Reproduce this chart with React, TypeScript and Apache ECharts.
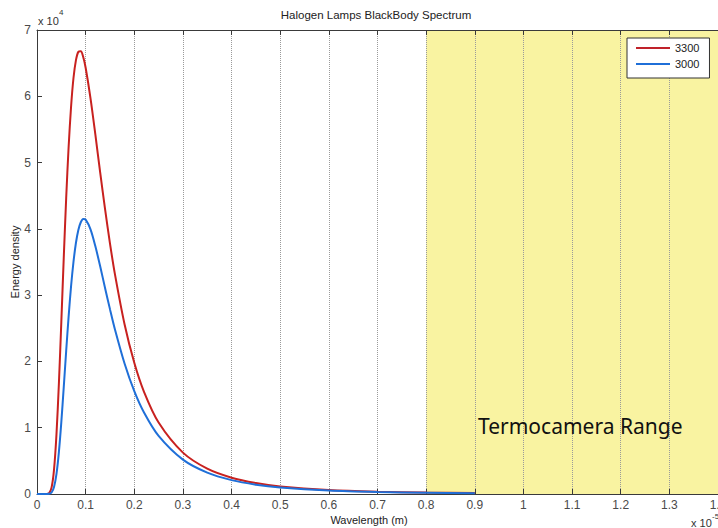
import React, { useEffect, useRef } from "react";
import * as echarts from "echarts";

// wavelength in units of 1e-5 m
const wavelength = [0, 0.02, 0.025, 0.03, 0.035, 0.04, 0.045, 0.05, 0.055, 0.06, 0.065, 0.07, 0.075, 0.08, 0.085, 0.09, 0.095, 0.1, 0.11, 0.12, 0.13, 0.14, 0.15, 0.16, 0.18, 0.2, 0.22, 0.25, 0.3, 0.35, 0.4, 0.45, 0.5, 0.6, 0.7, 0.8, 0.9];
const energy3300 = [0, 5, 136, 1001, 3680, 8960, 16680, 25960, 35630, 44650, 52340, 58390, 62760, 65410, 66700, 66780, 65920, 64300, 59700, 54210, 48440, 42940, 37820, 33240, 25600, 19790, 15410, 10780, 6240, 3820, 2460, 1650, 1140, 598, 342, 209, 135];
const energy3000 = [0, 1, 24, 232, 1060, 3010, 6330, 10850, 16120, 21590, 26760, 31320, 35010, 37870, 39840, 41000, 41500, 41390, 39930, 37370, 34310, 31050, 27890, 24890, 19690, 15520, 12290, 8760, 5180, 3220, 2090, 1410, 988, 522, 300, 185, 120];
const seriesNames = ["3300", "3000"];
const rangeX = [0.8, 1.4];
const yMax = 70000;
const xMax = 1.4;

export default function App() {
  const ref = useRef<HTMLDivElement>(null);
  useEffect(() => {
    const chart = echarts.init(ref.current!, null, { renderer: "svg" });
    const font = "'Liberation Sans', Arial, sans-serif";
    const axisColor = "#3a3a3a";
    const labelColor = "#4a4a4a";
    chart.setOption({
      animation: false,
      backgroundColor: "#ffffff",
      grid: { left: 37, top: 30, width: 681, height: 464, containLabel: false, outerBoundsMode: "none" },
      legend: {
        data: seriesNames,
        orient: "vertical",
        left: 627,
        top: 38,
        icon: "rect",
        itemWidth: 34,
        itemHeight: 2,
        itemGap: 4,
        padding: [4, 10, 8, 9],
        backgroundColor: "#ffffff",
        borderColor: "#333333",
        borderWidth: 1,
        borderRadius: 0,
        textStyle: { fontSize: 11, lineHeight: 12, color: "#222222", fontFamily: font },
      },
      xAxis: [
        {
          type: "value",
          min: 0,
          max: xMax,
          interval: 0.1,
          z: 2,
          axisLine: { show: true, lineStyle: { color: axisColor, width: 1 } },
          axisTick: { show: true, inside: true, length: 5, lineStyle: { color: axisColor } },
          axisLabel: {
            color: labelColor,
            fontSize: 12,
            fontFamily: font,
            margin: 5,
            formatter: (v: number) => String(Math.round(v * 10) / 10),
          },
          splitLine: { show: true, lineStyle: { color: "#9a9a9a", type: "dotted", width: 1 } },
        },
        {
          type: "value",
          position: "top",
          min: 0,
          max: xMax,
          interval: 0.1,
          z: 2,
          axisLine: { show: true, lineStyle: { color: axisColor, width: 1 } },
          axisTick: { show: true, inside: true, length: 5, lineStyle: { color: axisColor } },
          axisLabel: { show: false },
          splitLine: { show: false },
        },
      ],
      yAxis: {
        type: "value",
        min: 0,
        max: yMax,
        interval: 10000,
        z: 2,
        axisLine: { show: true, lineStyle: { color: axisColor, width: 1 } },
        axisTick: { show: true, inside: true, length: 5, lineStyle: { color: axisColor } },
        axisLabel: {
          color: labelColor,
          fontSize: 12,
          fontFamily: font,
          margin: 6,
          formatter: (v: number) => String(v / 10000),
        },
        splitLine: { show: false },
      },
      series: [
        {
          name: "range",
          type: "line",
          z: 1,
          xAxisIndex: 0,
          data: [
            [rangeX[0], yMax],
            [rangeX[1], yMax],
          ],
          symbol: "none",
          lineStyle: { width: 0 },
          areaStyle: { color: "#f9f3a1", opacity: 1 },
          silent: true,
        },
        {
          name: seriesNames[0],
          type: "line",
          z: 3,
          data: wavelength.map((x, i) => [x, energy3300[i]]),
          symbol: "none",
          smooth: 0.3,
          color: "#c0222a",
          lineStyle: { color: "#c8211f", width: 2 },
        },
        {
          name: seriesNames[1],
          type: "line",
          z: 4,
          data: wavelength.map((x, i) => [x, energy3000[i]]),
          symbol: "none",
          smooth: 0.3,
          color: "#1f6fd8",
          lineStyle: { color: "#1f6fd8", width: 2 },
        },
      ],
      graphic: [
        {
          type: "text",
          x: 376,
          y: 15,
          style: { text: "Halogen Lamps BlackBody Spectrum", fill: "#222", fontSize: 11.5, fontFamily: font, align: "center", verticalAlign: "middle" },
        },
        {
          type: "text",
          x: 38,
          y: 21,
          style: { text: "x 10", fill: "#333", fontSize: 11, fontFamily: font, align: "left", verticalAlign: "middle" },
        },
        {
          type: "text",
          x: 59,
          y: 12,
          style: { text: "4", fill: "#333", fontSize: 8, fontFamily: font, align: "left", verticalAlign: "middle" },
        },
        {
          type: "text",
          x: 691,
          y: 523,
          style: { text: "x 10", fill: "#333", fontSize: 11, fontFamily: font, align: "left", verticalAlign: "middle" },
        },
        {
          type: "text",
          x: 712,
          y: 516,
          style: { text: "-5", fill: "#333", fontSize: 8, fontFamily: font, align: "left", verticalAlign: "middle" },
        },
        {
          type: "text",
          x: 369,
          y: 520,
          style: { text: "Wavelength (m)", fill: "#222", fontSize: 11, fontFamily: font, align: "center", verticalAlign: "middle" },
        },
        {
          type: "text",
          x: 15,
          y: 262,
          rotation: Math.PI / 2,
          style: { text: "Energy density", fill: "#222", fontSize: 11, fontFamily: font, align: "center", verticalAlign: "middle" },
        },
        {
          type: "text",
          x: 478,
          y: 426,
          z: 10,
          style: { text: "Termocamera Range", fill: "#111", fontSize: 21, fontFamily: "'Noto Sans', 'Open Sans', sans-serif", align: "left", verticalAlign: "middle" },
        },
      ],
    });
    return () => chart.dispose();
  }, []);
  return <div ref={ref} style={{ position: "absolute", left: 0, top: 0, width: 718, height: 528 }} />;
}
